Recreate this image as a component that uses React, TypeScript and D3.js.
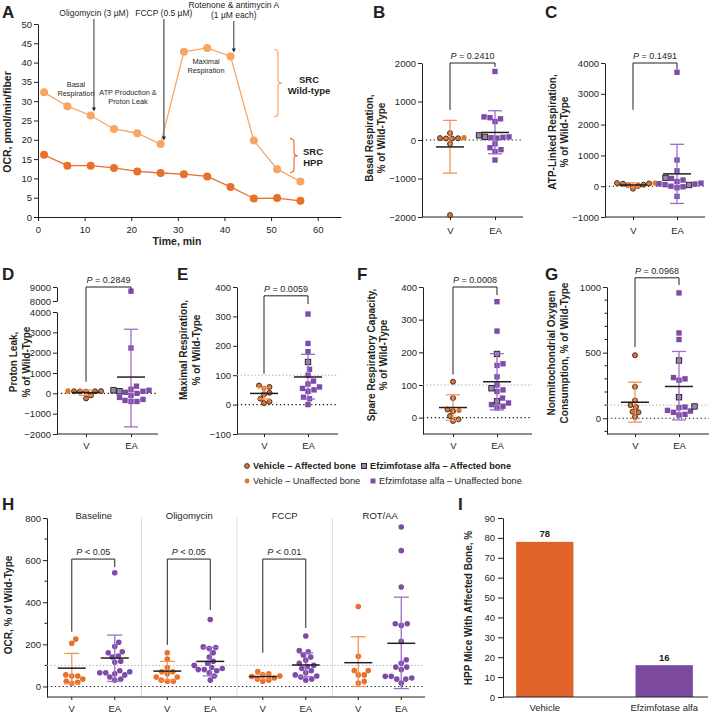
import React, { useRef, useEffect } from "react";
import * as d3 from "d3";

const FONT = "'Liberation Sans', Arial, Helvetica, sans-serif";
const INK = "#231f20";
const ORANGE = "#e8702b";
const ORANGE_LIGHT = "#f6a565";
const ORANGE_ERR = "#f0945c";
const ORANGE_AFF = "#dc7738";
const BROWN = "#3a2212";
const PURPLE = "#7e4ca8";
const PURPLE_ERR = "#9c70c7";
const PURPLE_AFF = "#9a86ae";
const BAR_ORANGE = "#e06329";
const BAR_PURPLE = "#7b4a9e";

// A: OCR time course
const timeMin = [1.3, 6.3, 11.3, 16.3, 21.3, 26.3, 31.3, 36.3, 41.3, 46.3, 51.3, 56.3];
const ocrWildType = [32.3, 28.7, 26.3, 22.8, 21.7, 18.9, 42.8, 43.8, 41.6, 19.8, 12.4, 9.2];
const ocrHpp = [16.1, 13.3, 13.3, 12.7, 11.8, 11.4, 11.1, 10.5, 7.8, 4.8, 4.9, 4.2];
const injectionNames = [["Oligomycin (3 µM)"], ["FCCP (0.5 µM)"], ["Rotenone & antimycin A", "(1 µM each)"]];
const injectionTimes = [12, 27, 42];
const injectionTips = [27.3, 19.8, 42.6];

// B: basal respiration
const bVehAffected = [50, 180, -100, 40, 45, 40, -1950];
const bVehUnaffected = [60];
const bEaAffected = [80, 120];
const bEaUnaffected = [1780, 600, 580, 550, 480, 80, 50, 60, 70, -100, -200, -250, -300, -520];
const bVehStats = [-180, -860, 510];
const bEaStats = [196, -357, 760];

// C: ATP-linked respiration
const cVehAffected = [90, 80, 30, 100, -80, 10, 50];
const cVehUnaffected = [100];
const cEaAffected = [270, 40];
const cEaUnaffected = [3700, 850, 500, 250, 200, 150, 100, 80, 70, 50, 0, -20, -50, -330];
const cVehStats = [40, -30, 110];
const cEaStats = [400, -560, 1360];

// D: proton leak
const dVehAffected = [100, 90, 110, 80, 100, -100, -250];
const dVehUnaffected = [120];
const dEaAffected = [150, 100];
const dEaUnaffected = [8700, 2230, 350, 200, 150, 100, 50, 0, -100, -200, -300, -400, -400, -350];
const dVehStats = [40, -100, 160];
const dEaStats = [800, -1650, 3150];

// E: maximal respiration
const eVehAffected = [65, 60, 40, 35, 20, 10, 5];
const eVehUnaffected = [55];
const eEaAffected = [145];
const eEaUnaffected = [308, 208, 180, 120, 100, 80, 70, 60, 55, 50, 45, 25, 20, 0];
const eVehStats = [38, 19, 58];
const eEaStats = [94, 19, 171];

// F: spare respiratory capacity
const fVehAffected = [110, 60, 25, 20, 5, -5, -10];
const fVehUnaffected = [22];
const fEaAffected = [195, 90, 50];
const fEaUnaffected = [355, 265, 165, 160, 125, 100, 85, 80, 60, 45, 40, 35, 30];
const fVehStats = [31, -8, 70];
const fEaStats = [110, 24, 196];

// G: nonmitochondrial oxygen consumption
const gVehAffected = [480, 240, 135, 100, 85, 50, 45, 10];
const gVehUnaffected: number[] = [];
const gEaAffected = [440, 160, 90];
const gEaUnaffected = [955, 650, 600, 310, 300, 290, 85, 80, 60, 55, 45, 25, 30];
const gVehStats = [122, -30, 275];
const gEaStats = [242, -13, 509];

// H: OCR by condition
const hConditions = ["Baseline", "Oligomycin", "FCCP", "ROT/AA"];
const hVehicleOcr = [
  [225, 205, 55, 50, 50, 35, 25, 20, 15],
  [160, 130, 90, 70, 70, 60, 45, 45, 30, 25, 25],
  [71, 60, 55, 50, 47, 40, 35, 30, 25],
  [380, 143, 76, 76, 55, 55, 24, 16],
];
const hEaOcr = [
  [540, 210, 190, 165, 160, 145, 140, 120, 115, 75, 70, 65, 65, 60, 55, 45, 35, 30],
  [318, 188, 185, 180, 160, 140, 120, 110, 100, 90, 85, 80, 80, 75, 65, 50, 30],
  [240, 170, 165, 150, 140, 125, 110, 100, 95, 85, 75, 65, 55, 50, 45, 35, 30],
  [757, 645, 472, 298, 298, 290, 214, 127, 110, 92, 92, 80, 48, 48, 40, 35, 35, 16],
];
const hVehicleStats = [[87, 13, 157], [73, 30, 119], [47, 35, 58], [113, 0, 236]];
const hEaStats = [[135, 24, 244], [119, 50, 185], [102, 47, 160], [205, -10, 424]];
const hPValues = ["< 0.05", "< 0.05", "< 0.01", ""];
const hBrackets = [[605, 260, 567], [605, 197, 363], [605, 160, 278], []];

// I: mice with affected bone
const iGroups = ["Vehicle", "Efzimfotase alfa"];
const iPercent = [78, 16];

function styleAxis(g: any, size = 9.5) {
  g.attr("font-family", FONT).attr("font-size", size);
  g.selectAll("path, line").attr("stroke", INK);
  g.selectAll("text").attr("fill", INK);
}

function addText(g: any, x: number, y: number, s: string, size = 9.5, anchor = "middle", weight = "normal") {
  return g
    .append("text")
    .attr("x", x)
    .attr("y", y)
    .attr("font-size", size)
    .attr("text-anchor", anchor)
    .attr("font-weight", weight)
    .attr("fill", INK)
    .text(s);
}

function addVTitle(g: any, x: number, y: number, lines: string[], gap = 12, size = 10) {
  lines.forEach((s, i) => {
    g.append("text")
      .attr("transform", `translate(${x + i * gap},${y}) rotate(-90)`)
      .attr("text-anchor", "middle")
      .attr("font-weight", "bold")
      .attr("font-size", size)
      .attr("fill", INK)
      .text(s);
  });
}

function addPLabel(g: any, x: number, y: number, rest: string) {
  const t = g.append("text").attr("x", x).attr("y", y).attr("text-anchor", "middle").attr("font-size", 9).attr("fill", INK);
  t.append("tspan").attr("font-style", "italic").text("P");
  t.append("tspan").text(" " + rest);
}

// simple beeswarm: each point gets the smallest horizontal offset that avoids overlap
function swarm(points: { v: number; aff: boolean }[], y: (v: number) => number, dist: number) {
  const placed: { dx: number; py: number }[] = [];
  return points
    .map((p) => ({ ...p, py: y(p.v) }))
    .sort((a, b) => b.py - a.py)
    .map((p) => {
      let dx = 0;
      for (let i = 0; i < 200; i++) {
        dx = i === 0 ? 0 : (i % 2 ? 1 : -1) * Math.ceil(i / 2) * 0.5;
        if (placed.every((q) => (q.dx - dx) ** 2 + (q.py - p.py) ** 2 >= dist * dist)) break;
      }
      placed.push({ dx, py: p.py });
      return { ...p, dx };
    });
}

function drawErr(g: any, x: number, y: (v: number) => number, stats: number[], color: string, cap = 7, half = 14) {
  const [mean, lo, hi] = stats;
  g.append("line").attr("x1", x).attr("x2", x).attr("y1", y(lo)).attr("y2", y(hi)).attr("stroke", color).attr("stroke-width", 1.3);
  [lo, hi].forEach((v) => {
    g.append("line").attr("x1", x - cap).attr("x2", x + cap).attr("y1", y(v)).attr("y2", y(v)).attr("stroke", color).attr("stroke-width", 1.3);
  });
  g.append("line").attr("x1", x - half).attr("x2", x + half).attr("y1", y(mean)).attr("y2", y(mean)).attr("stroke", INK).attr("stroke-width", 1.5);
}

function drawPanelA(svg: any) {
  const x = d3.scaleLinear().domain([0, 65]).range([38, 341]);
  const y = d3.scaleLinear().domain([0, 50]).range([217, 24]);
  const g = svg.append("g");

  g.append("g")
    .attr("transform", "translate(0,217)")
    .call(d3.axisBottom(x).tickValues(d3.range(0, 61, 10)).tickSize(4).tickSizeOuter(0).tickPadding(5))
    .call((a: any) => styleAxis(a, 9.5));
  g.append("g")
    .attr("transform", "translate(38,0)")
    .call(d3.axisLeft(y).tickValues(d3.range(0, 51, 5)).tickSize(4).tickSizeOuter(0).tickPadding(2))
    .call((a: any) => styleAxis(a, 9.5));

  const line = d3
    .line<number>()
    .x((_, i) => x(timeMin[i]))
    .y((d) => y(d));
  const series: [number[], string][] = [
    [ocrWildType, ORANGE_LIGHT],
    [ocrHpp, ORANGE],
  ];
  series.forEach(([vals, color]) => {
    g.append("path").datum(vals).attr("d", line).attr("fill", "none").attr("stroke", color).attr("stroke-width", 1.3);
    g.selectAll(null)
      .data(vals)
      .enter()
      .append("circle")
      .attr("cx", (_: any, i: number) => x(timeMin[i]))
      .attr("cy", (d: number) => y(d))
      .attr("r", 4)
      .attr("fill", color);
  });

  // injection arrows
  injectionNames.forEach((lines, i) => {
    const ax = x(injectionTimes[i]);
    const tip = y(injectionTips[i]);
    const startY = lines.length > 1 ? 21 : 19;
    lines.forEach((s, j) => addText(g, ax, lines.length > 1 ? 8 + j * 10 : 16, s, 8.5));
    const grey = i === 1;
    g.append("line")
      .attr("x1", ax)
      .attr("x2", ax)
      .attr("y1", startY)
      .attr("y2", tip - 3)
      .attr("stroke", grey ? "#777" : INK)
      .attr("stroke-width", grey ? 1.6 : 0.9);
    g.append("path")
      .attr("d", `M${ax - 2},${tip - 4}L${ax + 2},${tip - 4}L${ax},${tip}Z`)
      .attr("fill", INK);
  });

  addText(g, 76, 87, "Basal", 7.3);
  addText(g, 76, 96, "Respiration", 7.3);
  addText(g, 128, 95, "ATP Production &", 7.3);
  addText(g, 128, 104, "Proton Leak", 7.3);
  addText(g, 206, 64, "Maximal", 7.3);
  addText(g, 206, 73, "Respiration", 7.3);

  // spare respiratory capacity braces
  const brace = (x0: number, top: number, bottom: number, color: string) => {
    const x1 = x0 + 4;
    const mid = (top + bottom) / 2;
    g.append("path")
      .attr(
        "d",
        `M${x0},${top}Q${x1},${top} ${x1},${top + 4}V${mid - 3}Q${x1},${mid} ${x1 + 4},${mid}Q${x1},${mid} ${x1},${mid + 3}V${bottom - 4}Q${x1},${bottom} ${x0},${bottom}`
      )
      .attr("fill", "none")
      .attr("stroke", color)
      .attr("stroke-width", 1.2);
  };
  brace(274, y(43.4), y(26.0), ORANGE_LIGHT);
  brace(290, y(20.3), y(11.5), ORANGE);
  addText(g, 309, 83, "SRC", 9.5, "middle", "bold");
  addText(g, 309, 94, "Wild-type", 9.5, "middle", "bold");
  addText(g, 313, 155, "SRC", 9.5, "middle", "bold");
  addText(g, 313, 166, "HPP", 9.5, "middle", "bold");

  addText(g, 177, 245, "Time, min", 10.5, "middle", "bold");
  g.append("text")
    .attr("transform", "translate(11,122) rotate(-90)")
    .attr("text-anchor", "middle")
    .attr("font-size", 10.5)
    .attr("font-weight", "bold")
    .attr("fill", INK)
    .text("OCR, pmol/min/fiber");
  addText(g, 2, 18, "A", 17, "start", "bold");
}

interface DotCfg {
  letter: string;
  letterX: number;
  letterY: number;
  title: string[];
  titleX: number;
  titleY: number;
  titleGap: number;
  left: number;
  right: number;
  top: number;
  bottom: number;
  domain: [number, number];
  ticks: number[];
  minor?: number[];
  vx: number;
  eax: number;
  labelY: number;
  vehAff: number[];
  vehUn: number[];
  eaAff: number[];
  eaUn: number[];
  vehStats: number[];
  eaStats: number[];
  p: string;
  bracket: number[];
  ref100?: boolean;
  broken?: boolean;
}

const dotPanels: DotCfg[] = [
  {
    letter: "B", letterX: 373, letterY: 18, title: ["Basal Respiration,", "% of Wild-Type"], titleX: 373, titleY: 138, titleGap: 11.5,
    left: 422, right: 523, top: 63, bottom: 217, domain: [-2000, 2000], ticks: [-2000, -1000, 0, 1000, 2000],
    vx: 450, eax: 495, labelY: 234, vehAff: bVehAffected, vehUn: bVehUnaffected, eaAff: bEaAffected, eaUn: bEaUnaffected,
    vehStats: bVehStats, eaStats: bEaStats, p: "= 0.2410", bracket: [2000, 780, 1900],
  },
  {
    letter: "C", letterX: 545, letterY: 18, title: ["ATP-Linked Respiration,", "% of Wild-Type"], titleX: 556, titleY: 132, titleGap: 11.5,
    left: 605, right: 705, top: 63, bottom: 217, domain: [-1000, 4000], ticks: [-1000, 0, 1000, 2000, 3000, 4000],
    vx: 633, eax: 677, labelY: 234, vehAff: cVehAffected, vehUn: cVehUnaffected, eaAff: cEaAffected, eaUn: cEaUnaffected,
    vehStats: cVehStats, eaStats: cEaStats, p: "= 0.1491", bracket: [4000, 2480, 3800],
  },
  {
    letter: "D", letterX: 2, letterY: 280, title: ["Proton Leak,", "% of Wild-Type"], titleX: 16.5, titleY: 362, titleGap: 13,
    left: 57, right: 158, top: 312, bottom: 434, domain: [-2000, 4000], ticks: [-2000, -1000, 0, 1000, 2000, 3000, 4000],
    vx: 86, eax: 131, labelY: 449, vehAff: dVehAffected, vehUn: dVehUnaffected, eaAff: dEaAffected, eaUn: dEaUnaffected,
    vehStats: dVehStats, eaStats: dEaStats, p: "= 0.2849", bracket: [9000, 570, 8820], broken: true,
  },
  {
    letter: "E", letterX: 177, letterY: 280, title: ["Maximal Respiration,", "% of Wild-Type"], titleX: 187, titleY: 350, titleGap: 13,
    left: 237, right: 338, top: 287, bottom: 434, domain: [-100, 400], ticks: [-100, 0, 100, 200, 300, 400],
    vx: 264, eax: 308, labelY: 449, vehAff: eVehAffected, vehUn: eVehUnaffected, eaAff: eEaAffected, eaUn: eEaUnaffected,
    vehStats: eVehStats, eaStats: eEaStats, p: "= 0.0059", bracket: [370, 105, 342], ref100: true,
  },
  {
    letter: "F", letterX: 357, letterY: 280, title: ["Spare Respiratory Capacity,", "% of Wild-Type"], titleX: 374.5, titleY: 355, titleGap: 12,
    left: 423, right: 532, top: 287, bottom: 434, domain: [-50, 400], ticks: [0, 100, 200, 300, 400],
    vx: 453, eax: 497, labelY: 449, vehAff: fVehAffected, vehUn: fVehUnaffected, eaAff: fEaAffected, eaUn: fEaUnaffected,
    vehStats: fVehStats, eaStats: fEaStats, p: "= 0.0008", bracket: [400, 132, 375], ref100: true,
  },
  {
    letter: "G", letterX: 545, letterY: 280, title: ["Nonmitochondrial Oxygen", "Consumption, % of Wild-Type"], titleX: 554.5, titleY: 353, titleGap: 13,
    left: 607, right: 709, top: 287, bottom: 434, domain: [-120, 1000], ticks: [0, 500, 1000], minor: [-100, 100, 200, 300, 400, 600, 700, 800, 900],
    vx: 635, eax: 679, labelY: 449, vehAff: gVehAffected, vehUn: gVehUnaffected, eaAff: gEaAffected, eaUn: gEaUnaffected,
    vehStats: gVehStats, eaStats: gEaStats, p: "= 0.0968", bracket: [1070, 543, 1015], ref100: true,
  },
];

function drawDotPanel(svg: any, cfg: DotCfg) {
  const g = svg.append("g");
  const yLow = d3.scaleLinear().domain(cfg.domain).range([cfg.bottom, cfg.top]);
  const yUp = d3.scaleLinear().domain([8000, 9000]).range([301, 287]);
  const y = (v: number) => (cfg.broken && v > 6000 ? yUp(v) : yLow(v));
  const fmt = d3.format("d");

  g.append("g")
    .attr("transform", `translate(${cfg.left},0)`)
    .call(d3.axisLeft(yLow).tickValues(cfg.ticks).tickSize(4).tickSizeOuter(0).tickPadding(2).tickFormat(fmt as any))
    .call((a: any) => styleAxis(a));
  if (cfg.broken) {
    g.append("g")
      .attr("transform", `translate(${cfg.left},0)`)
      .call(d3.axisLeft(yUp).tickValues([8000, 9000]).tickSize(4).tickSizeOuter(0).tickPadding(2).tickFormat(fmt as any))
      .call((a: any) => styleAxis(a));
  }
  (cfg.minor || []).forEach((t) => {
    g.append("line").attr("x1", cfg.left - 2.5).attr("x2", cfg.left).attr("y1", yLow(t)).attr("y2", yLow(t)).attr("stroke", INK);
  });

  const xPt = d3.scalePoint().domain(["V", "EA"]).range([cfg.vx, cfg.eax]);
  g.append("line").attr("x1", cfg.left).attr("x2", cfg.right).attr("y1", cfg.bottom).attr("y2", cfg.bottom).attr("stroke", INK);
  g.append("g")
    .attr("transform", `translate(0,${cfg.bottom})`)
    .call(d3.axisBottom(xPt).tickSize(3).tickPadding(cfg.labelY - cfg.bottom - 10))
    .call((a: any) => {
      a.select(".domain").remove();
      styleAxis(a);
    });

  // reference lines
  g.append("line").attr("x1", cfg.left).attr("x2", cfg.right).attr("y1", yLow(0)).attr("y2", yLow(0))
    .attr("stroke", INK).attr("stroke-width", 1.1).attr("stroke-dasharray", "1.3,2.6");
  if (cfg.ref100) {
    g.append("line").attr("x1", cfg.left).attr("x2", cfg.right).attr("y1", yLow(100)).attr("y2", yLow(100))
      .attr("stroke", "#aaa").attr("stroke-width", 1).attr("stroke-dasharray", "1.3,2.2");
  }

  // points
  const veh = swarm(
    [...cfg.vehAff.map((v) => ({ v, aff: true })), ...cfg.vehUn.map((v) => ({ v, aff: false }))],
    y,
    5.6
  );
  const ea = swarm(
    [...cfg.eaAff.map((v) => ({ v, aff: true })), ...cfg.eaUn.map((v) => ({ v, aff: false }))],
    y,
    6
  );
  g.selectAll(null)
    .data(veh)
    .enter()
    .append("circle")
    .attr("cx", (d: any) => cfg.vx + d.dx)
    .attr("cy", (d: any) => d.py)
    .attr("r", (d: any) => (d.aff ? 2.5 : 2.6))
    .attr("fill", (d: any) => (d.aff ? ORANGE_AFF : ORANGE))
    .attr("stroke", (d: any) => (d.aff ? BROWN : "none"))
    .attr("stroke-width", 0.9);
  g.selectAll(null)
    .data(ea)
    .enter()
    .append("rect")
    .attr("x", (d: any) => cfg.eax + d.dx - 2.7)
    .attr("y", (d: any) => d.py - 2.7)
    .attr("width", 5.4)
    .attr("height", 5.4)
    .attr("fill", (d: any) => (d.aff ? PURPLE_AFF : PURPLE))
    .attr("stroke", (d: any) => (d.aff ? "#1e1a22" : "none"))
    .attr("stroke-width", 0.9);

  drawErr(g, cfg.vx, y, cfg.vehStats, ORANGE_ERR);
  drawErr(g, cfg.eax, y, cfg.eaStats, PURPLE_ERR);

  // significance bracket
  const [bt, bl, br] = cfg.bracket;
  g.append("path")
    .attr("d", `M${cfg.vx},${y(bl)}V${y(bt)}H${cfg.eax}V${y(br)}`)
    .attr("fill", "none")
    .attr("stroke", INK)
    .attr("stroke-width", 1);
  addPLabel(g, (cfg.vx + cfg.eax) / 2, y(bt) - 4, cfg.p);

  addVTitle(g, cfg.titleX, cfg.titleY, cfg.title, cfg.titleGap);
  addText(g, cfg.letterX, cfg.letterY, cfg.letter, 17, "start", "bold");
}

function drawLegend(svg: any) {
  const g = svg.append("g");
  const items = [
    { x: 247, y: 466, label: "Vehicle – Affected bone", shape: "circle", aff: true },
    { x: 364, y: 466, label: "Efzimfotase alfa – Affected bone", shape: "square", aff: true },
    { x: 247, y: 481, label: "Vehicle – Unaffected bone", shape: "circle", aff: false },
    { x: 373, y: 481, label: "Efzimfotase alfa – Unaffected bone", shape: "square", aff: false },
  ];
  items.forEach((it) => {
    if (it.shape === "circle") {
      g.append("circle").attr("cx", it.x).attr("cy", it.y).attr("r", 2.4)
        .attr("fill", it.aff ? ORANGE_AFF : ORANGE).attr("stroke", it.aff ? BROWN : "none").attr("stroke-width", 0.9);
    } else {
      g.append("rect").attr("x", it.x - 2.5).attr("y", it.y - 2.5).attr("width", 5).attr("height", 5)
        .attr("fill", it.aff ? PURPLE_AFF : PURPLE).attr("stroke", it.aff ? "#1e1a22" : "none").attr("stroke-width", 0.9);
    }
    addText(g, it.x + 6, it.y + 3.3, it.label, 9.2, "start", it.aff ? "bold" : "normal");
  });
}

function drawPanelH(svg: any) {
  const g = svg.append("g");
  const left = 47;
  const right = 425;
  const top = 518;
  const bottom = 697;
  const y = d3.scaleLinear().domain([-50, 800]).range([bottom, top]);
  const band = d3.scaleBand().domain(hConditions).range([46, 428]);
  const vOf = (c: string) => (band(c) as number) + band.bandwidth() * 0.27;
  const eOf = (c: string) => (band(c) as number) + band.bandwidth() * 0.72;

  // separators
  hConditions.slice(1).forEach((c) => {
    g.append("line").attr("x1", band(c)).attr("x2", band(c)).attr("y1", top).attr("y2", bottom).attr("stroke", "#dedede");
  });

  g.append("g")
    .attr("transform", `translate(${left},0)`)
    .call(d3.axisLeft(y).tickValues([0, 200, 400, 600, 800]).tickSize(4).tickSizeOuter(0).tickPadding(2))
    .call((a: any) => styleAxis(a));
  [100, 300, 500, 700].forEach((t) => {
    g.append("line").attr("x1", left - 2.5).attr("x2", left).attr("y1", y(t)).attr("y2", y(t)).attr("stroke", INK);
  });
  g.append("line").attr("x1", left).attr("x2", right).attr("y1", bottom).attr("y2", bottom).attr("stroke", INK);

  g.append("line").attr("x1", left).attr("x2", right).attr("y1", y(0)).attr("y2", y(0))
    .attr("stroke", INK).attr("stroke-width", 1.1).attr("stroke-dasharray", "1.3,2.6");
  g.append("line").attr("x1", left).attr("x2", right).attr("y1", y(100)).attr("y2", y(100))
    .attr("stroke", "#aaa").attr("stroke-width", 1).attr("stroke-dasharray", "1.3,2.2");

  hConditions.forEach((c, i) => {
    const vx = vOf(c);
    const ex = eOf(c);
    addText(g, (band(c) as number) + band.bandwidth() / 2, 518.5, c, 9.5);
    [
      [vx, "V"],
      [ex, "EA"],
    ].forEach(([px, lab]) => {
      g.append("line").attr("x1", px).attr("x2", px).attr("y1", bottom).attr("y2", bottom + 3).attr("stroke", INK);
      addText(g, px as number, 712, lab as string, 9.5);
    });

    const vPts = swarm(hVehicleOcr[i].map((v) => ({ v, aff: false })), y, 5.8);
    const ePts = swarm(hEaOcr[i].map((v) => ({ v, aff: false })), y, 5.8);
    g.selectAll(null).data(vPts).enter().append("circle")
      .attr("cx", (d: any) => vx + d.dx).attr("cy", (d: any) => d.py).attr("r", 2.8).attr("fill", ORANGE);
    g.selectAll(null).data(ePts).enter().append("circle")
      .attr("cx", (d: any) => ex + d.dx).attr("cy", (d: any) => d.py).attr("r", 2.8).attr("fill", PURPLE);

    drawErr(g, vx, y, hVehicleStats[i], ORANGE_ERR, 7.5, 14);
    drawErr(g, ex, y, hEaStats[i], PURPLE_ERR, 7.5, 14);

    if (hPValues[i]) {
      const [bt, bl, br] = hBrackets[i];
      g.append("path")
        .attr("d", `M${vx},${y(bl)}V${y(bt)}H${ex}V${y(br)}`)
        .attr("fill", "none")
        .attr("stroke", INK)
        .attr("stroke-width", 1);
      addPLabel(g, (vx + ex) / 2, y(bt) - 4, hPValues[i]);
    }
  });

  g.append("text")
    .attr("transform", "translate(12,605) rotate(-90)")
    .attr("text-anchor", "middle")
    .attr("font-size", 10)
    .attr("font-weight", "bold")
    .attr("fill", INK)
    .text("OCR, % of Wild-Type");
  addText(g, 2, 510, "H", 17, "start", "bold");
}

function drawPanelI(svg: any) {
  const g = svg.append("g");
  const y = d3.scaleLinear().domain([0, 90]).range([697, 518]);
  const x = d3.scaleBand().domain(iGroups).range([503, 706]).paddingInner(0.52).paddingOuter(0.11);

  g.selectAll(null)
    .data(iGroups)
    .enter()
    .append("rect")
    .attr("x", (d: string) => x(d))
    .attr("y", (_: any, i: number) => y(iPercent[i]))
    .attr("width", x.bandwidth())
    .attr("height", (_: any, i: number) => y(0) - y(iPercent[i]))
    .attr("fill", (_: any, i: number) => (i === 0 ? BAR_ORANGE : BAR_PURPLE));
  iGroups.forEach((d, i) => {
    const cx = (x(d) as number) + x.bandwidth() / 2;
    addText(g, cx, y(iPercent[i]) - 4.5, String(iPercent[i]), 9.5, "middle", "bold");
    addText(g, cx, 711, d, 9.5);
  });

  g.append("g")
    .attr("transform", "translate(503,0)")
    .call(d3.axisLeft(y).tickValues(d3.range(0, 91, 10)).tickSize(5).tickSizeOuter(0).tickPadding(3))
    .call((a: any) => styleAxis(a));
  g.append("line").attr("x1", 503).attr("x2", 708).attr("y1", 697).attr("y2", 697).attr("stroke", INK);

  g.append("text")
    .attr("transform", "translate(471.5,608) rotate(-90)")
    .attr("text-anchor", "middle")
    .attr("font-size", 10)
    .attr("font-weight", "bold")
    .attr("fill", INK)
    .text("HPP Mice With Affected Bone, %");
  addText(g, 458, 510, "I", 17, "start", "bold");
}

const App: React.FC = () => {
  const ref = useRef<SVGSVGElement | null>(null);

  useEffect(() => {
    const svg = d3.select(ref.current);
    svg.selectAll("*").remove();
    svg.attr("font-family", FONT);
    drawPanelA(svg);
    dotPanels.forEach((cfg) => drawDotPanel(svg, cfg));
    drawLegend(svg);
    drawPanelH(svg);
    drawPanelI(svg);
  }, []);

  return (
    <svg
      ref={ref}
      width={709}
      height={714}
      style={{ position: "absolute", left: 0, top: 0, background: "#fff" }}
    />
  );
};

export default App;
